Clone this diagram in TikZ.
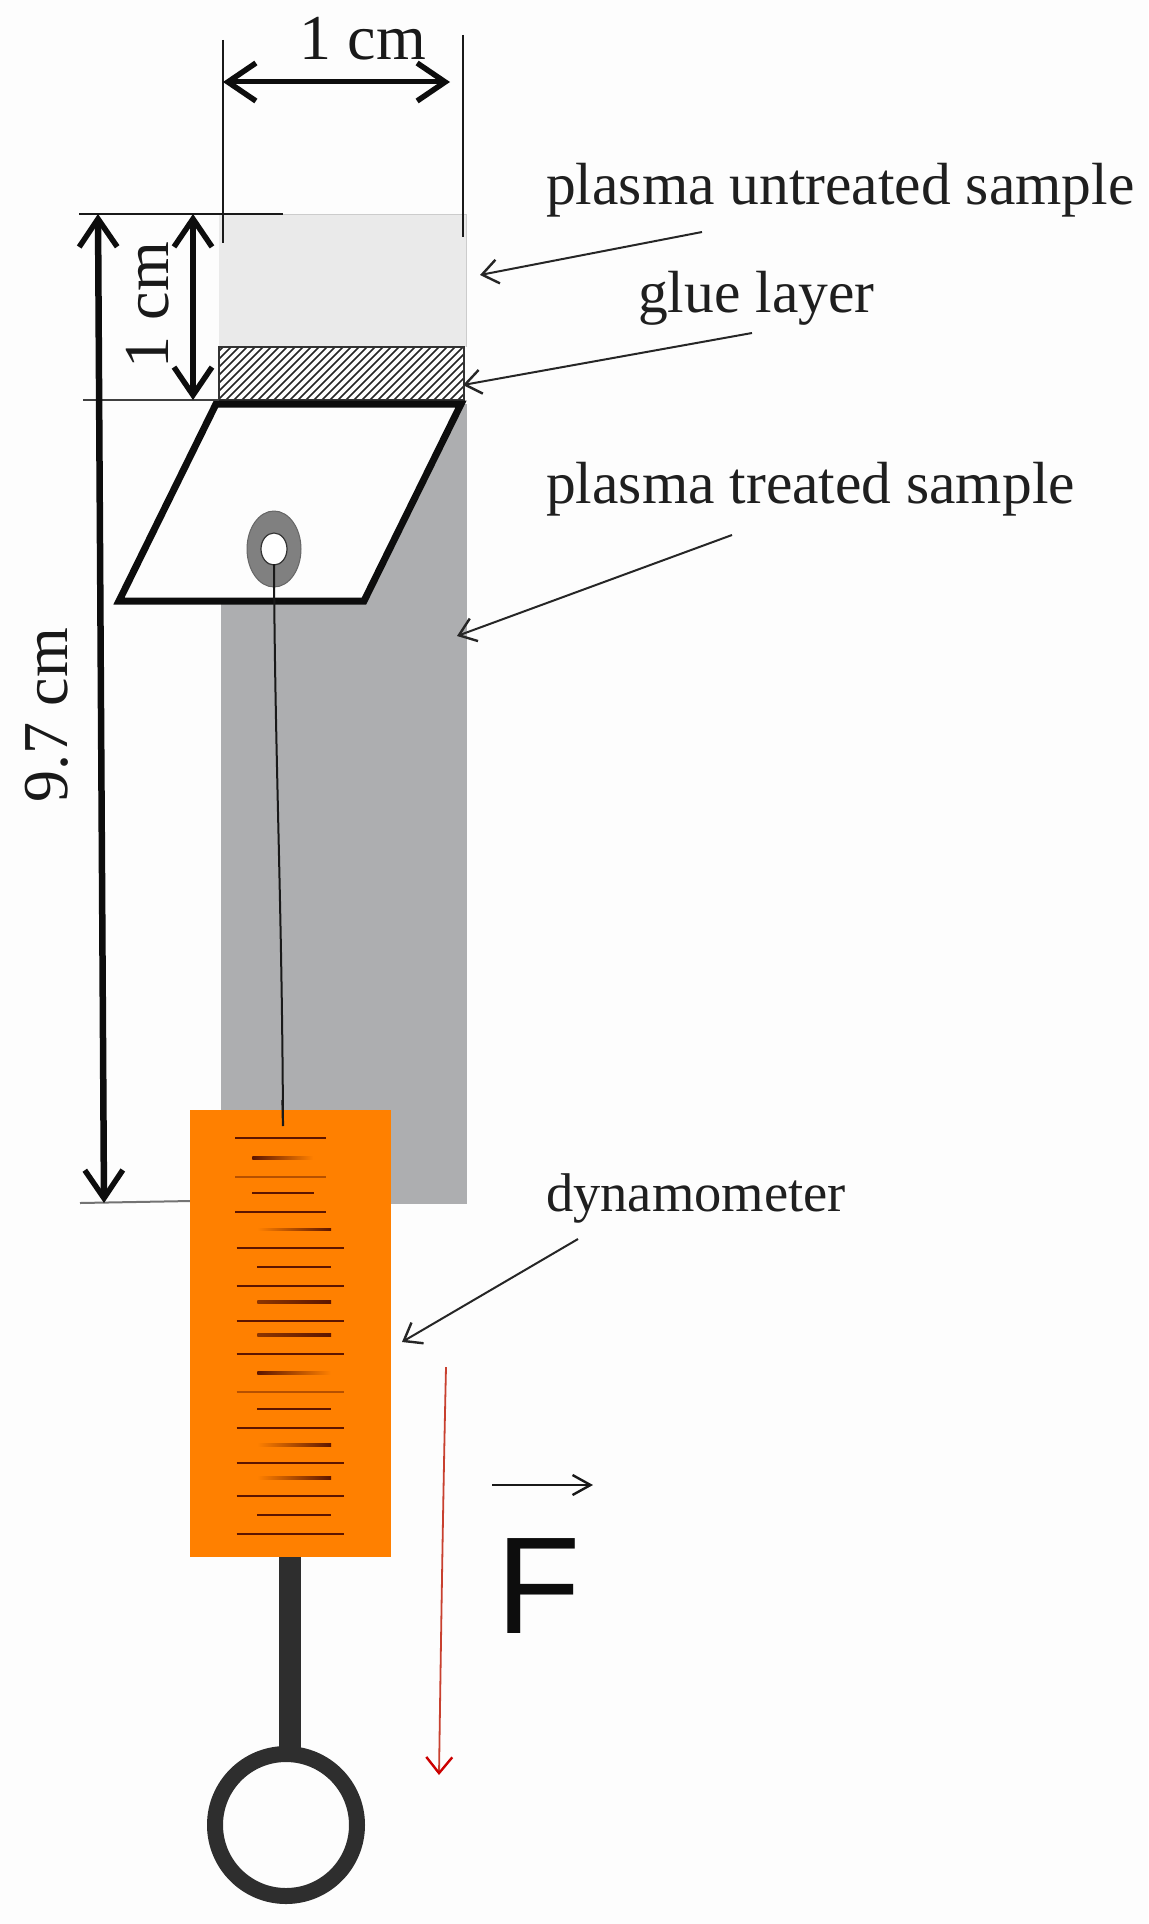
\documentclass[tikz,border=0pt]{standalone}
\usepackage{fontspec}
\setmainfont{Liberation Serif}
\newfontfamily\fsans{Liberation Sans}
\usetikzlibrary{arrows.meta}
\definecolor{paper}{HTML}{FDFDFD}
\definecolor{lightsample}{HTML}{EAEAEA}
\definecolor{darksample}{HTML}{ADAEB0}
\definecolor{dyno}{HTML}{FF8000}
\definecolor{tickdark}{HTML}{5C1500}
\definecolor{handle}{HTML}{2E2E2E}
\definecolor{eyelet}{HTML}{808080}
\definecolor{forcered}{HTML}{C8402F}
\newcommand{\fpx}[1]{\fontsize{#1}{#1}\selectfont}
\tikzset{
  x=1pt,y=-1pt,
  extline/.style={line width=2pt,draw=black!90},
  dimbig/.style={line width=6.5pt,draw=black!95,{Straight Barb[length=28pt,width=38pt,line width=5.5pt]}-{Straight Barb[length=28pt,width=38pt,line width=5.5pt]}},
  leader/.style={line width=2pt,draw=black!85,-{Straight Barb[length=16pt,width=24pt,line width=2.4pt]}},
  lbl/.style={inner sep=0pt,anchor=base west,text=black!88,font=\fpx{59.5}},
  dimlbl/.style={inner sep=0pt,anchor=base,text=black!90,font=\fpx{64}},
  tickline/.style={line width=2.2pt,draw=tickdark},
  ticklight/.style={line width=2.2pt,draw=tickdark!45!dyno},
}
\newcommand{\fadetick}[5]{% y, x1, x2, left colour, right colour
  \shade[left color=#4,right color=#5] (#2,#1-1.2) rectangle (#3,#1+1.2);}
\begin{document}
\begin{tikzpicture}
\useasboundingbox (0,0) rectangle (1148,1924);
\fill[paper] (0,0) rectangle (1148,1924);

% samples
\fill[darksample] (221,404) rectangle (467,1204);
\fill[lightsample] (219,214) rectangle (466,347);
\draw[black!20,line width=1pt] (283,214) -- (466,214) -- (466,347);

% glue layer
\fill[white] (219,347) rectangle (464,400);
\begin{scope}
  \clip (219,347) rectangle (464,400);
  \foreach \h in {170,178,...,470}
    \draw[black!85,line width=1.5pt] (\h,400) -- (\h+53,347);
\end{scope}
\draw[black!80,line width=1.3pt] (219,347) rectangle (464,400);

% parallelogram clamp
\fill[paper] (216,404) -- (461,404) -- (364,601) -- (119,601) -- cycle;
\draw[line width=7pt,black!95,miter limit=4] (216,404) -- (461,404) -- (364,601) -- (119,601) -- cycle;

% eyelet and thread
\filldraw[fill=eyelet,draw=black!60,line width=1pt] (274,549) ellipse [x radius=27,y radius=38];
\filldraw[fill=white,draw=black!80,line width=1.2pt] (274,549) ellipse [x radius=13,y radius=16];
\coordinate (threadtop) at (274,564);
\coordinate (threadend) at (283,1126);
\draw[black!90,line width=2pt] (threadtop) .. controls (275,760) and (282,900) .. (threadend);

% extension lines
\coordinate (extLa) at (223,40); \coordinate (extLb) at (223,243);
\coordinate (extRa) at (463,35); \coordinate (extRb) at (463,237);
\coordinate (extTa) at (79,214); \coordinate (extTb) at (283,214);
\coordinate (extMa) at (83,400); \coordinate (extMb) at (219,400);
\coordinate (extBa) at (80,1203); \coordinate (extBb) at (191,1201);
\draw[extline] (extLa) -- (extLb);
\draw[extline] (extRa) -- (extRb);
\draw[extline] (extTa) -- (extTb);
\draw[extline,draw=black!75] (extMa) -- (extMb);
\draw[extline,draw=black!55] (extBa) -- (extBb);

% dimensions
\coordinate (dimHa) at (223,82); \coordinate (dimHb) at (450,82);
\coordinate (dimVa) at (193,214); \coordinate (dimVb) at (193,400);
\coordinate (dimTa) at (98,214); \coordinate (dimTb) at (104,1203);
\draw[dimbig,line width=5pt] (dimHa) -- (dimHb);
\draw[dimbig] (dimVa) -- (dimVb);
\draw[dimbig] (dimTa) -- (dimTb);
\node[dimlbl] (dimHl) at (363,60) {1 cm};
\node[dimlbl,rotate=90] (dimVl) at (168,305) {1 cm};
\node[dimlbl,rotate=90] (dimTl) at (67,715) {9.7 cm};

% dynamometer
\fill[handle] (279,1550) rectangle (301,1750);
\draw[handle,line width=16pt] (286,1825) circle [radius=71];
\fill[dyno] (190,1110) rectangle (391,1557);
\draw[black!90,line width=2.2pt] (282.5,1100) -- (threadend);

\foreach \y/\a/\b in {145/195/467,310/247/433,367/195/467,473/200/523,531/262/483,588/200/523,694/200/523,793/200/523,957/262/483,1013/200/523,1120/200/523,1218/200/523,1275/262/483,1332/200/523}
  \draw[tickline] ({170+\a/3},{1090+\y/3}) -- ({170+\b/3},{1090+\y/3});
\foreach \y/\a/\b in {260/195/467,905/200/523}
  \draw[ticklight] ({170+\a/3},{1090+\y/3}) -- ({170+\b/3},{1090+\y/3});
\fadetick{1158}{252.3}{313}{tickdark}{dyno}
\fadetick{1229.5}{257.3}{331}{dyno}{tickdark}
\fadetick{1302}{257.3}{331}{dyno!30!tickdark}{tickdark}
\fadetick{1335}{257.3}{331}{dyno!30!tickdark}{tickdark}
\fadetick{1373}{257.3}{331}{tickdark}{dyno}
\fadetick{1445}{257.3}{331}{dyno}{tickdark}
\fadetick{1478}{257.3}{331}{dyno}{tickdark}

% leaders and labels
\node[lbl] (untreated) at (546,204) {plasma untreated sample};
\node[lbl] (glue) at (638,312) {glue layer};
\node[lbl] (treated) at (546,503) {plasma treated sample};
\node[lbl,font=\fpx{54.5}] (dynolbl) at (546,1211) {dynamometer};
\coordinate (untreatedA) at (702,232); \coordinate (untreatedB) at (480,275);
\coordinate (glueA) at (752,333); \coordinate (glueB) at (463,385);
\coordinate (treatedA) at (732,535); \coordinate (treatedB) at (457,636);
\coordinate (dynoA) at (578,1239); \coordinate (dynoB) at (402,1342);
\draw[leader] (untreatedA) -- (untreatedB);
\draw[leader] (glueA) -- (glueB);
\draw[leader] (treatedA) -- (treatedB);
\draw[leader] (dynoA) -- (dynoB);

% force
\coordinate (redA) at (446,1367); \coordinate (redB) at (439,1775);
\draw[forcered,line width=1.8pt,-{Straight Barb[length=16pt,width=26pt,line width=2.4pt,color=red!80!black]}] (redA) .. controls (443,1500) and (441,1640) .. (redB);
\coordinate (vecA) at (492,1485); \coordinate (vecB) at (593,1485);
\draw[black!90,line width=2pt,-{Straight Barb[length=18pt,width=20pt,line width=2.4pt]}] (vecA) -- (vecB);
\node[inner sep=0pt,anchor=base west,text=black!95,font=\fsans\fpx{138}] (Flabel) at (496,1633) {F};
\end{tikzpicture}
\end{document}
